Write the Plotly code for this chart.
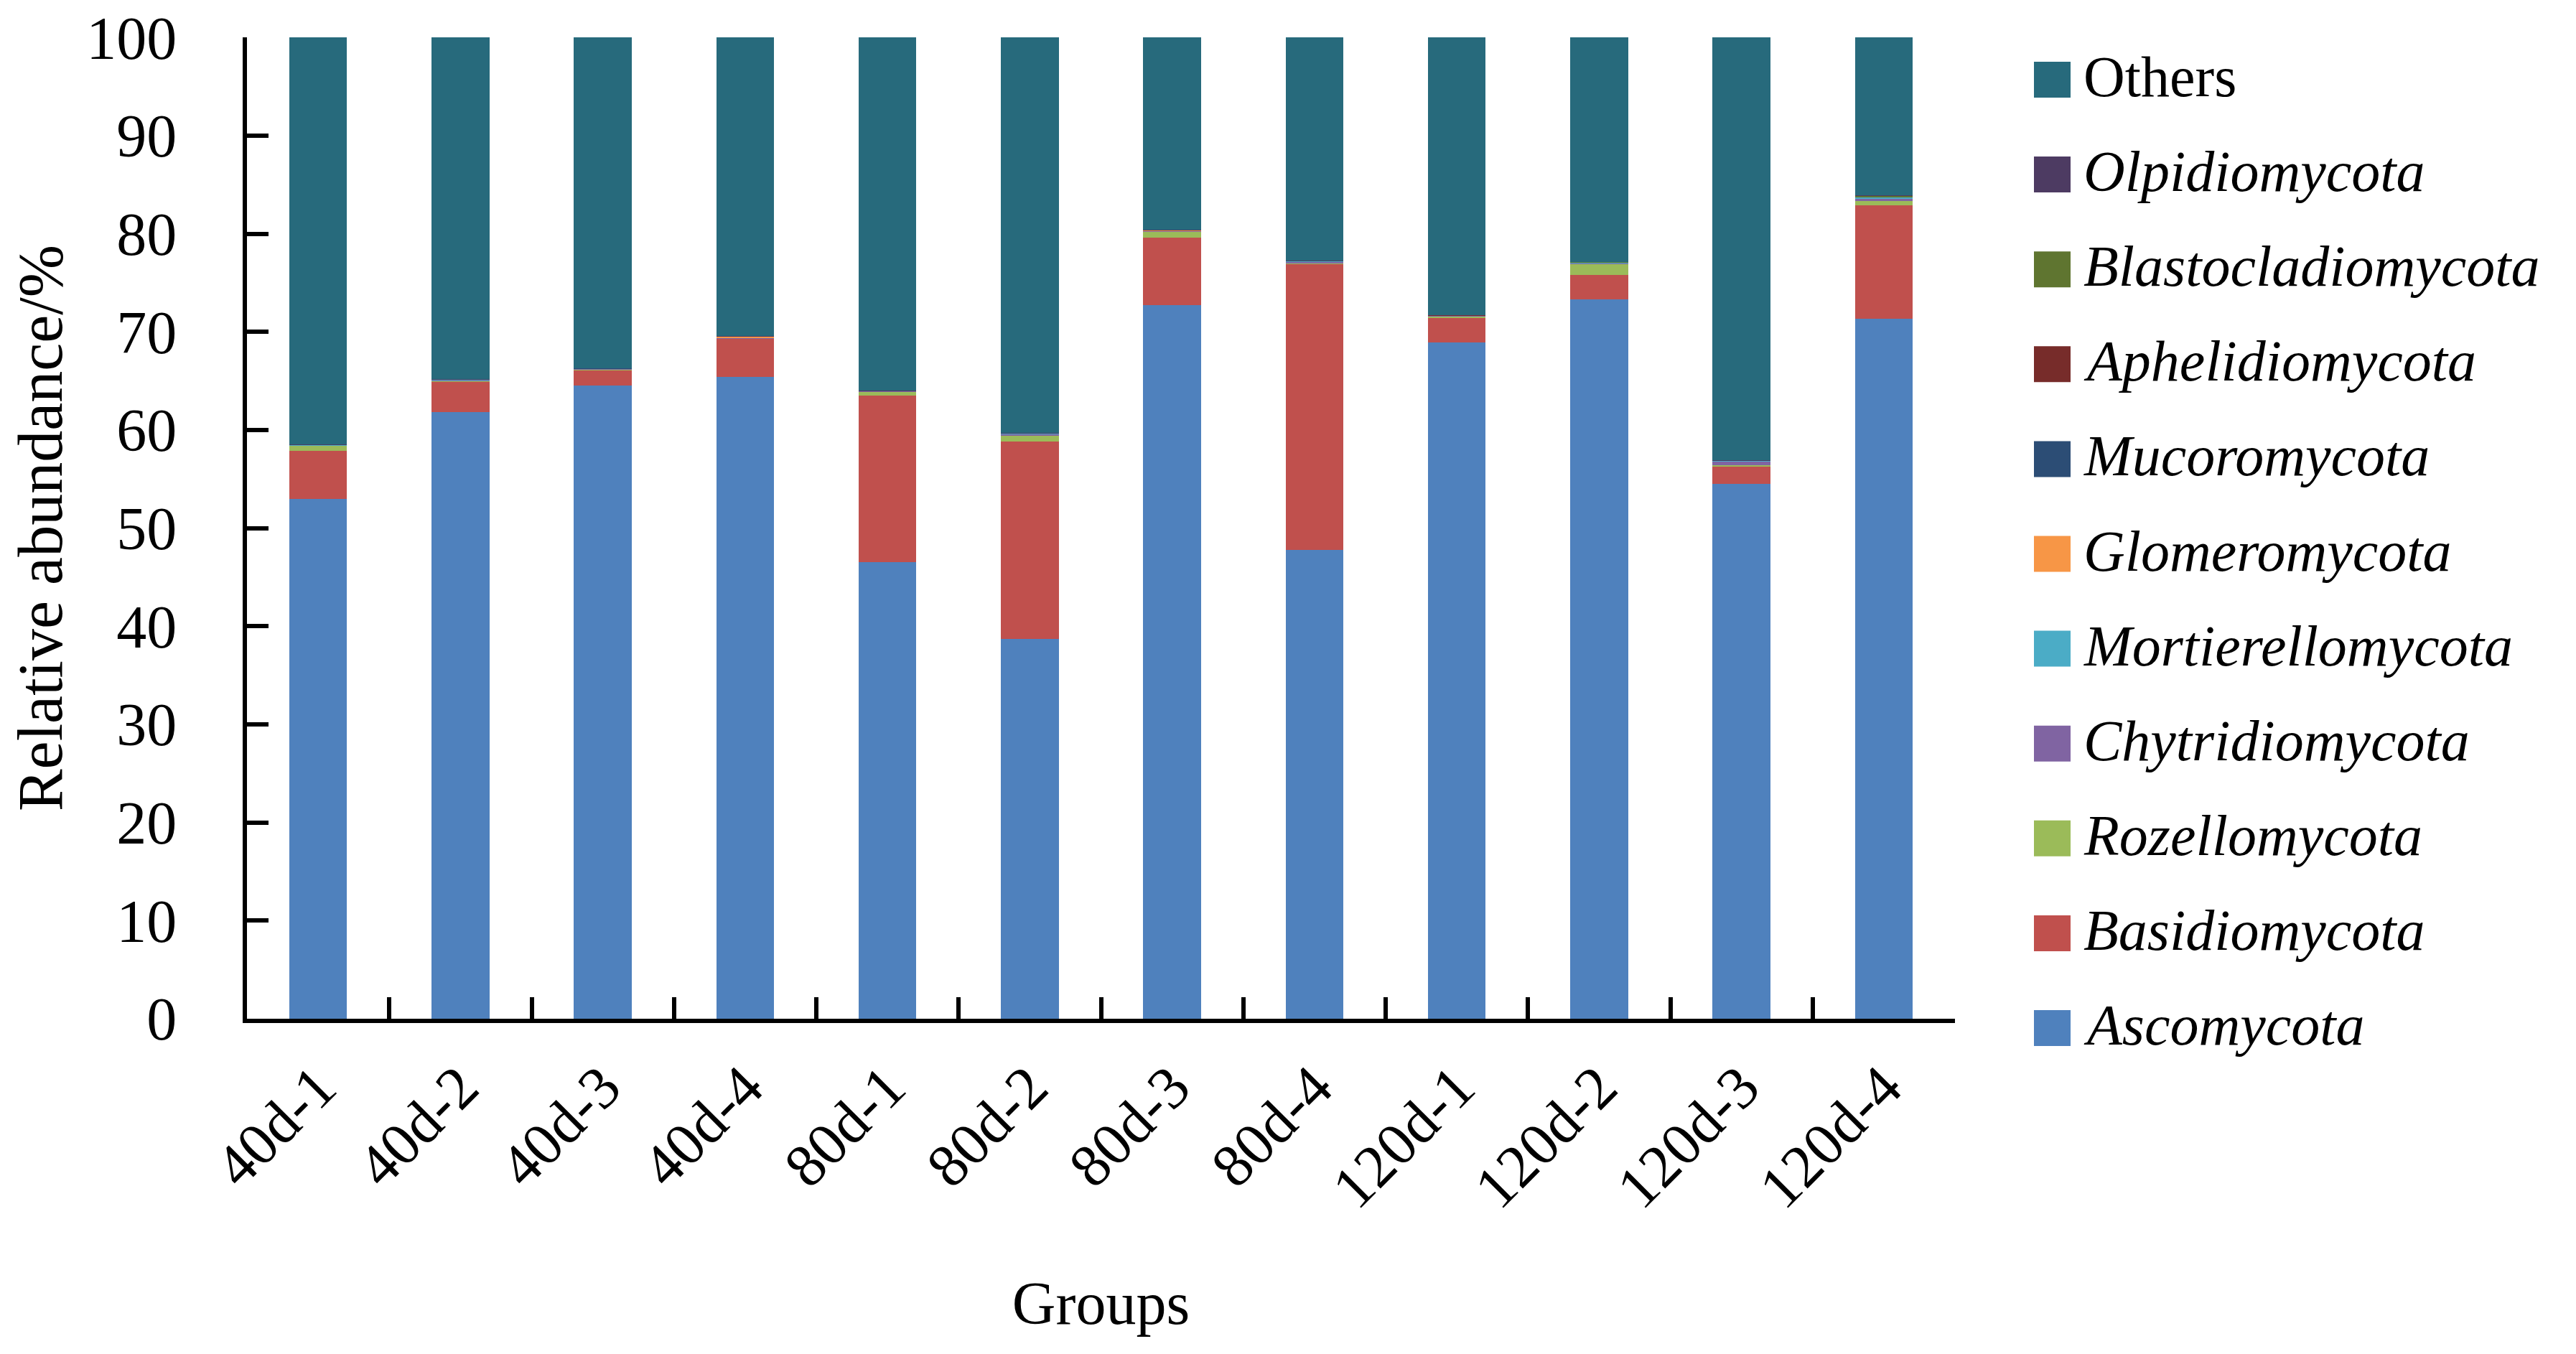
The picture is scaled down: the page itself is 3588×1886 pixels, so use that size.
import plotly.graph_objects as go

# ---------------- data ----------------
categories = ["40d-1", "40d-2", "40d-3", "40d-4", "80d-1", "80d-2",
              "80d-3", "80d-4", "120d-1", "120d-2", "120d-3", "120d-4"]

ascomycota        = [53.0, 61.8, 64.5, 65.4, 46.5, 38.7, 72.7, 47.8, 68.9, 73.3, 54.5, 71.3]
basidiomycota     = [4.9, 3.1, 1.6, 3.9, 17.0, 20.1, 6.9, 29.1, 2.5, 2.5, 1.8, 11.6]
rozellomycota     = [0.5, 0.1, 0.1, 0.05, 0.4, 0.6, 0.6, 0.1, 0.2, 1.1, 0.1, 0.4]
chytridiomycota   = [0.05, 0.1, 0.05, 0.05, 0.05, 0.2, 0.1, 0.15, 0.05, 0.1, 0.4, 0.3]
mortierellomycota = [0.02, 0.02, 0.02, 0.02, 0.02, 0.05, 0.02, 0.05, 0.02, 0.08, 0.05, 0.1]
glomeromycota     = [0.01, 0.01, 0.01, 0.12, 0.01, 0.01, 0.01, 0.01, 0.01, 0.01, 0.01, 0.01]
mucoromycota      = [0.01, 0.01, 0.01, 0.01, 0.01, 0.01, 0.01, 0.01, 0.01, 0.01, 0.01, 0.01]
aphelidiomycota   = [0.01, 0.01, 0.01, 0.01, 0.01, 0.01, 0.01, 0.01, 0.01, 0.01, 0.01, 0.01]
blastocladiomycota= [0.01, 0.01, 0.01, 0.01, 0.01, 0.01, 0.01, 0.01, 0.01, 0.01, 0.01, 0.15]
olpidiomycota     = [0.01, 0.01, 0.01, 0.01, 0.01, 0.01, 0.01, 0.01, 0.01, 0.01, 0.01, 0.01]
others            = [41.48, 34.83, 33.68, 30.42, 35.98, 40.30, 19.63, 22.75, 28.28, 22.87, 43.10, 16.11]

series_names = ["Ascomycota", "Basidiomycota", "Rozellomycota", "Chytridiomycota",
                "Mortierellomycota", "Glomeromycota", "Mucoromycota", "Aphelidiomycota",
                "Blastocladiomycota", "Olpidiomycota", "Others"]
series_values = [ascomycota, basidiomycota, rozellomycota, chytridiomycota,
                 mortierellomycota, glomeromycota, mucoromycota, aphelidiomycota,
                 blastocladiomycota, olpidiomycota, others]
series_colors = ["#4F81BD", "#C0504D", "#9BBB59", "#8064A2", "#4BACC6", "#F79646",
                 "#2C4D75", "#772C2A", "#5F7530", "#4D3B62", "#276A7C"]
italic_flags = [True] * 10 + [False]

y_ticks = [0, 10, 20, 30, 40, 50, 60, 70, 80, 90, 100]

# ---------------- layout constants ----------------
OFF = 8                                  # page body margin offset
W, H = 3588 - OFF, 1886 - OFF
PL, PR, PT, PB = 344 - OFF, 2723 - OFF, 52 - OFF, 1419 - OFF   # plot area in pixels
FONT = "Liberation Serif"
FS = 84
LFS = 80

fig = go.Figure()
for name, vals, col in zip(series_names, series_values, series_colors):
    fig.add_trace(go.Bar(x=categories, y=vals, name=name,
                         marker=dict(color=col, line=dict(width=0)),
                         showlegend=False))

# ---------------- manual legend (from series lists) ----------------
def px_to_paper_x(px):
    return (px - PL) / (PR - PL)

def px_to_paper_y(py):
    return (PB - py) / (PB - PT)

leg_top_center = 111 - OFF
leg_step = 132.1
sw_x0, sw_x1, sw_h = 2833 - OFF, 2884 - OFF, 50
txt_x = 2900 - OFF
legend_order = list(range(len(series_names)))[::-1]
shapes = []
annotations = []
for k, idx in enumerate(legend_order):
    cy = leg_top_center + k * leg_step
    shapes.append(dict(type="rect", xref="paper", yref="paper",
                       x0=px_to_paper_x(sw_x0), x1=px_to_paper_x(sw_x1),
                       y0=px_to_paper_y(cy + sw_h / 2), y1=px_to_paper_y(cy - sw_h / 2),
                       fillcolor=series_colors[idx], line=dict(width=0)))
    label = series_names[idx]
    if italic_flags[idx]:
        label = "<i>" + label + "</i>"
    annotations.append(dict(xref="paper", yref="paper",
                            x=px_to_paper_x(txt_x), y=px_to_paper_y(cy - 4),
                            xanchor="left", yanchor="middle", showarrow=False,
                            text=label, font=dict(family=FONT, size=LFS, color="black")))

fig.update_layout(
    width=W, height=H,
    paper_bgcolor="white", plot_bgcolor="white",
    barmode="stack", bargap=0.595,
    margin=dict(l=PL, r=W - PR, t=PT, b=H - PB, pad=0, autoexpand=False),
    font=dict(family=FONT, size=FS, color="black"),
    shapes=shapes, annotations=annotations,
    xaxis=dict(type="category", showline=True, linewidth=6, linecolor="black",
               automargin=False,
               ticks="inside", tickson="boundaries", ticklen=30, tickwidth=6,
               tickcolor="black", tickangle=-45, showgrid=False, zeroline=False,
               tickfont=dict(family=FONT, size=FS, color="black"),
               ticklabelstandoff=6, ticklabeloverflow="allow",
               title=dict(text="Groups", font=dict(family=FONT, size=FS, color="black"),
                          standoff=88)),
    yaxis=dict(range=[0, 100.01], tickvals=y_ticks, ticktext=[str(v) for v in y_ticks],
               showline=True, linewidth=6, linecolor="black",
               automargin=False,
               ticks="inside", ticklen=30, tickwidth=6, tickcolor="black",
               showgrid=False, zeroline=False,
               tickfont=dict(family=FONT, size=FS, color="black"),
               ticklabelstandoff=75, ticklabeloverflow="allow",
               title=dict(text="Relative abundance/%",
                          font=dict(family=FONT, size=88, color="black"), standoff=52)),
)

fig.write_html("out.html")
